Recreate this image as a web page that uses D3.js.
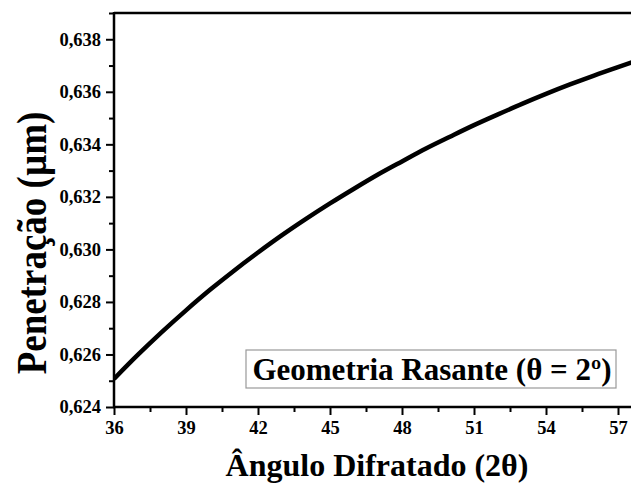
<!DOCTYPE html>
<html>
<head>
<meta charset="utf-8">
<script src="https://cdn.jsdelivr.net/npm/d3@7"></script>
<style>
  html, body { margin: 0; padding: 0; background: #fff; }
  svg { display: block; }
</style>
</head>
<body>
<svg id="chart" width="631" height="486"></svg>
<script>
// Diffraction angle 2θ (degrees)
const angles = [36, 37, 38, 39, 40, 41, 42, 43, 44, 45, 46, 47, 48, 49, 50, 51, 52, 53, 54, 55, 56, 57, 58];
// Penetration depth (µm) under grazing incidence θ = 2°
const penetration = [0.62507, 0.62599, 0.62686, 0.62768, 0.62846, 0.62919, 0.62988, 0.63054, 0.63116,
  0.63175, 0.63231, 0.63285, 0.63335, 0.63384, 0.63429, 0.63473, 0.63514, 0.63554, 0.63592,
  0.63628, 0.63662, 0.63694, 0.63725];
const xTicks = [36, 39, 42, 45, 48, 51, 54, 57];
const yTicks = [0.624, 0.626, 0.628, 0.630, 0.632, 0.634, 0.636, 0.638];
const xLabel = "Ângulo Difratado (2θ)";
const yLabel = "Penetração (µm)";
const legendLabel = "Geometria Rasante (θ = 2º)";

const svg = d3.select("#chart");
const W = 631, H = 486;
const plotLeft = 114, plotTop = 13, plotBottom = 407;
const serif = '"Liberation Serif"';

const x = d3.scaleLinear().domain([36, 58]).range([plotLeft, plotLeft + 22 * 24]);
const y = d3.scaleLinear().domain([0.624, 0.639]).range([plotBottom, plotTop]);

const fmt = v => d3.format(".3f")(v).replace(".", ",");

// clip region for the plot area
svg.append("defs").append("clipPath").attr("id", "plotClip")
  .append("rect").attr("x", plotLeft).attr("y", plotTop)
  .attr("width", W - plotLeft).attr("height", plotBottom - plotTop);

// data curve
const line = d3.line().x((d, i) => x(angles[i])).y(d => y(d)).curve(d3.curveMonotoneX);
svg.append("path")
  .datum(penetration)
  .attr("clip-path", "url(#plotClip)")
  .attr("fill", "none")
  .attr("stroke", "#000")
  .attr("stroke-width", 4.5)
  .attr("stroke-linejoin", "round")
  .attr("d", line);

// top frame line
svg.append("line")
  .attr("x1", plotLeft).attr("x2", W).attr("y1", plotTop).attr("y2", plotTop)
  .attr("stroke", "#000").attr("stroke-width", 2.5);

// minor ticks
const xMinor = d3.range(37.5, 58, 3);
const yMinor = d3.range(0.625, 0.639, 0.002);

const gx = svg.append("g").attr("transform", `translate(0,${plotBottom})`);
gx.call(d3.axisBottom(x).tickValues(xMinor).tickSize(5).tickFormat(""));
gx.select(".domain").remove();
const gxMajor = svg.append("g").attr("transform", `translate(0,${plotBottom})`)
  .call(d3.axisBottom(x).tickValues(xTicks).tickSize(8).tickPadding(6).tickFormat(d3.format("d")));
gxMajor.select(".domain").remove();
svg.append("line").attr("x1", plotLeft - 1).attr("x2", W).attr("y1", plotBottom).attr("y2", plotBottom)
  .attr("stroke", "#000").attr("stroke-width", 2.5);

const gy = svg.append("g").attr("transform", `translate(${plotLeft},0)`);
gy.call(d3.axisLeft(y).tickValues(yMinor).tickSize(5).tickFormat(""));
gy.select(".domain").remove();
const gyMajor = svg.append("g").attr("transform", `translate(${plotLeft},0)`)
  .call(d3.axisLeft(y).tickValues(yTicks).tickSize(8).tickPadding(5).tickFormat(fmt));
gyMajor.select(".domain").remove();
svg.append("line").attr("x1", plotLeft).attr("x2", plotLeft).attr("y1", plotTop - 1).attr("y2", plotBottom + 1)
  .attr("stroke", "#000").attr("stroke-width", 2.5);

svg.selectAll(".tick line").attr("stroke", "#000").attr("stroke-width", 2);
svg.selectAll(".tick text")
  .style("font-size", "18.5px")
  .attr("fill", "#000");

// axis titles
svg.append("text")
  .attr("x", 377).attr("y", 476)
  .attr("text-anchor", "middle")
  .style("font-size", "32px")
  .text(xLabel);

svg.append("text")
  .attr("transform", "translate(46,243) rotate(-90) scale(1,1.15)")
  .attr("text-anchor", "middle")
  .style("font-size", "37px")
  .text(yLabel);

// legend box
svg.append("rect")
  .attr("x", 246).attr("y", 350).attr("width", 370).attr("height", 38)
  .attr("fill", "#fff").attr("stroke", "#999").attr("stroke-width", 1.2);
svg.append("text")
  .attr("x", 432).attr("y", 380)
  .attr("text-anchor", "middle")
  .style("font-size", "31px")
  .text(legendLabel);

// bold serif face for every label
svg.selectAll("text")
  .style("font-family", serif)
  .style("font-weight", "bold")
  .attr("fill", "#000");
</script>
</body>
</html>
